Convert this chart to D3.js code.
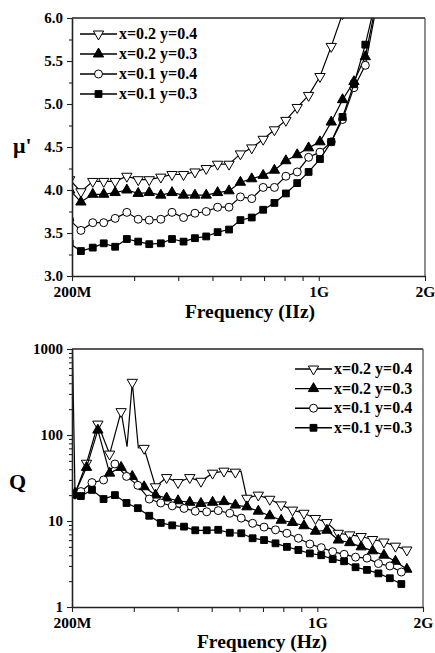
<!DOCTYPE html>
<html><head><meta charset="utf-8">
<script src="https://cdn.jsdelivr.net/npm/d3@7"></script>
<style>
body{margin:0;background:#fff}
svg{display:block}
text{font-family:"Liberation Serif","Times New Roman",serif;font-weight:bold;fill:#000}
</style>
</head><body><svg id="c" width="435" height="653"></svg>
<script>
// ---------- data ----------
const seriesNames = ["x=0.2 y=0.4", "x=0.2 y=0.3", "x=0.1 y=0.4", "x=0.1 y=0.3"];
const seriesSymbols = ["triDown", "triUp", "circle", "square"];

// permeability panel (frequency in MHz)
const muFreqMHz = [197, 212, 229, 246, 265, 286, 308, 331, 357, 384, 414, 446, 480, 517, 557, 600, 646, 696, 749, 807, 869, 936, 1008, 1085, 1168, 1258, 1355, 1459];
const muX2Y4 = [4.12, 3.98, 4.10, 4.10, 4.10, 4.16, 4.12, 4.12, 4.15, 4.18, 4.18, 4.21, 4.25, 4.30, 4.30, 4.42, 4.49, 4.59, 4.70, 4.81, 4.96, 5.10, 5.32, 5.67, 6.05];
const muX2Y3 = [4.00, 3.86, 3.95, 3.95, 3.97, 4.00, 3.96, 3.97, 3.94, 3.97, 3.94, 3.94, 3.94, 3.97, 3.99, 4.09, 4.13, 4.17, 4.23, 4.34, 4.41, 4.49, 4.56, 4.79, 5.05, 5.26, 5.55, 6.20];
const muX1Y4 = [3.65, 3.53, 3.62, 3.62, 3.67, 3.74, 3.66, 3.65, 3.66, 3.74, 3.68, 3.73, 3.75, 3.80, 3.80, 3.92, 3.90, 4.03, 4.03, 4.16, 4.21, 4.38, 4.44, 4.56, 4.82, 5.19, 5.45, 6.15];
const muX1Y3 = [3.38, 3.29, 3.33, 3.38, 3.34, 3.43, 3.40, 3.37, 3.38, 3.43, 3.40, 3.44, 3.46, 3.51, 3.54, 3.65, 3.68, 3.77, 3.85, 3.96, 4.08, 4.21, 4.36, 4.56, 4.85, 5.23, 5.69, 6.25];
const muTicks = [3.0, 3.5, 4.0, 4.5, 5.0, 5.5, 6.0];
const muMinorTicks = [3.25, 3.75, 4.25, 4.75, 5.25, 5.75];

// Q panel (frequency in MHz)
const qFreqMHz = [196, 212, 228, 246, 265, 286, 308, 332, 358, 386, 417, 449, 484, 522, 563, 607, 654, 705, 760, 819, 883, 952, 1026, 1106, 1192, 1285, 1385, 1493, 1609, 1735];
const qFreqBMHz = [200, 204, 220, 237, 256, 276, 297, 321, 346, 372, 401, 433, 466, 503, 542, 584, 630, 679, 732, 789, 850, 916, 988, 1065, 1148, 1237, 1333, 1437, 1548, 1669, 1799];
const qX2Y4 = [2000, 21, 47, 134, 60, 187, 410, 70, 25, 32, 28, 32, 29, 36, 38, 37, 18.4, 20, 17.9, 15.4, 13.4, 12.3, 10.7, 9.6, 7.2, 6.9, 6.6, 6.1, 5.7, 5.1, 4.6];
const qX2Y4ExtraFreqMHz = [287, 309, 606];
const qX2Y4Extra = [73, 71, 38];
const qX2Y3 = [20, 21, 42, 114, 36, 42, 33, 25, 20, 18.5, 17.2, 16.5, 16, 16.5, 16.8, 15.3, 14.6, 13, 11.5, 10.2, 9.6, 8.8, 7.6, 7.8, 6.0, 5.6, 5.0, 4.5, 4.0, 3.4, 2.75];
const qX1Y4 = [22, 22, 28, 30, 46, 33, 26, 18, 16.2, 15, 14, 13, 12.8, 13.2, 12.3, 10.8, 9.4, 8.5, 7.9, 7.2, 6.3, 5.4, 4.9, 4.4, 4.1, 3.8, 3.7, 3.2, 3.0, 2.55];
const qX1Y3 = [21, 19.5, 23, 18, 20, 16.2, 14.1, 11.5, 9.5, 8.9, 8.6, 7.8, 7.8, 7.9, 7.3, 7.2, 6.3, 6.0, 5.5, 5.0, 4.6, 4.2, 4.0, 3.6, 3.4, 2.9, 2.7, 2.46, 2.16, 1.85];
const qTicks = [1, 10, 100, 1000];
const qMinorTicks = [2,3,4,5,6,7,8,9,20,30,40,50,60,70,80,90,200,300,400,500,600,700,800,900];

const freqTicksMHz = [200, 300, 400, 500, 600, 700, 800, 900, 1000, 2000];
const freqTickLabels = {200: "200M", 1000: "1G", 2000: "2G"};

// ---------- drawing ----------
const svg = d3.select("#c");

function symPath(type) {
  if (type === "triDown" || type === "triUp") return d3.symbol(d3.symbolTriangle, 46)();
  if (type === "circle") return d3.symbol(d3.symbolCircle, 50)();
  return d3.symbol(d3.symbolSquare, 46)();
}
function symFill(type) { return (type === "triUp" || type === "square") ? "#000" : "#fff"; }
function symRot(type) { return type === "triDown" ? " rotate(180)" : ""; }

function drawPanel(o) {
  const g = svg.append("g");
  const x = d3.scaleLog().domain([200e6, 2e9]).range([o.left, o.right]);
  const y = o.yScale.range([o.bottom, o.top]);

  const cid = "clip" + o.name;
  svg.append("clipPath").attr("id", cid).append("rect")
    .attr("x", o.left).attr("y", o.top)
    .attr("width", o.right - o.left).attr("height", o.bottom - o.top);
  const plot = g.append("g").attr("clip-path", `url(#${cid})`);

  const line = d3.line().x(d => x(d[0])).y(d => y(d[1]));

  o.series.forEach((s, si) => {
    const pts = s.vals.map((v, i) => [s.freq[i] * 1e6, v]);
    let linePts = pts.slice();
    if (s.extraFreq) {
      s.extraVals.forEach((v, i) => linePts.push([s.extraFreq[i] * 1e6, v]));
      linePts.sort((a, b) => a[0] - b[0]);
    }
    plot.append("path").attr("d", line(linePts))
      .attr("fill", "none").attr("stroke", "#000").attr("stroke-width", 1.2);
    const type = seriesSymbols[si];
    plot.append("g").selectAll("path").data(pts).join("path")
      .attr("d", symPath(type))
      .attr("transform", d => `translate(${x(d[0])},${y(d[1])})` + symRot(type))
      .attr("fill", symFill(type)).attr("stroke", "#000").attr("stroke-width", 1);
  });

  // box (top & right)
  g.append("line").attr("x1", o.left).attr("x2", o.right).attr("y1", o.top).attr("y2", o.top)
    .attr("stroke", "#222").attr("stroke-width", 1.5);
  g.append("line").attr("x1", o.right).attr("x2", o.right).attr("y1", o.top).attr("y2", o.bottom)
    .attr("stroke", "#444").attr("stroke-width", 1.2);

  // x axis
  const xa = g.append("g").attr("transform", `translate(0,${o.bottom})`)
    .call(d3.axisBottom(x).tickValues(freqTicksMHz.map(f => f * 1e6))
      .tickFormat(d => freqTickLabels[Math.round(d / 1e6)] || "")
      .tickSize(5).tickSizeOuter(0).tickPadding(5));
  xa.selectAll("text").style("font-size", "15.5px").attr("fill", "#000");

  // y axis
  const ya = g.append("g").attr("transform", `translate(${o.left},0)`)
    .call(d3.axisLeft(y).tickValues(o.ticks).tickFormat(o.fmt)
      .tickSize(5).tickSizeOuter(0).tickPadding(4));
  ya.selectAll("text").style("font-size", "15px").attr("fill", "#000");
  g.append("g").attr("transform", `translate(${o.left},0)`)
    .call(d3.axisLeft(y).tickValues(o.minor).tickFormat("").tickSize(3).tickSizeOuter(0))
    .select(".domain").remove();

  g.selectAll(".domain").attr("stroke", "#222").attr("stroke-width", 1.6);
  g.selectAll(".tick line").attr("stroke", "#222").attr("stroke-width", 1.1);

  // titles
  g.append("text").attr("x", o.xTitleX).attr("y", o.xTitleY).attr("text-anchor", "middle")
    .style("font-size", "19.5px").text(o.xTitle);
  g.append("text").attr("x", o.yTitleX).attr("y", o.yTitleY)
    .style("font-size", "22px").text(o.yTitle);

  // legend
  const lg = g.append("g");
  seriesNames.forEach((name, i) => {
    const cy = o.legY + i * o.legStep;
    lg.append("line").attr("x1", o.legX).attr("x2", o.legX + 37).attr("y1", cy).attr("y2", cy)
      .attr("stroke", "#000").attr("stroke-width", 1.4);
    const type = seriesSymbols[i];
    lg.append("path").attr("d", symPath(type))
      .attr("transform", `translate(${o.legX + 18.5},${cy})` + symRot(type))
      .attr("fill", symFill(type)).attr("stroke", "#000").attr("stroke-width", 1);
    lg.append("text").attr("x", o.legX + 39).attr("y", cy + 5).style("font-size", "16px").text(name);
  });
}

drawPanel({
  name: "mu", left: 72, right: 425, top: 18, bottom: 276,
  yScale: d3.scaleLinear().domain([3.0, 6.0]),
  ticks: muTicks, minor: muMinorTicks, fmt: d3.format(".1f"),
  series: [
    {freq: muFreqMHz, vals: muX2Y4},
    {freq: muFreqMHz, vals: muX2Y3},
    {freq: muFreqMHz, vals: muX1Y4},
    {freq: muFreqMHz, vals: muX1Y3}
  ],
  xTitle: "Frequency (IIz)", xTitleX: 250, xTitleY: 318,
  yTitle: "\u03bc'", yTitleX: 13, yTitleY: 153,
  legX: 80, legY: 34, legStep: 20
});

drawPanel({
  name: "q", left: 72, right: 423, top: 349, bottom: 607,
  yScale: d3.scaleLog().domain([1, 1000]),
  ticks: qTicks, minor: qMinorTicks, fmt: d => String(d),
  series: [
    {freq: qFreqBMHz, vals: qX2Y4, extraFreq: qX2Y4ExtraFreqMHz, extraVals: qX2Y4Extra},
    {freq: qFreqBMHz, vals: qX2Y3},
    {freq: qFreqMHz, vals: qX1Y4},
    {freq: qFreqMHz, vals: qX1Y3}
  ],
  xTitle: "Frequency (Hz)", xTitleX: 262, xTitleY: 648,
  yTitle: "Q", yTitleX: 9, yTitleY: 489,
  legX: 295, legY: 369, legStep: 19.6
});
</script>
</body></html>
